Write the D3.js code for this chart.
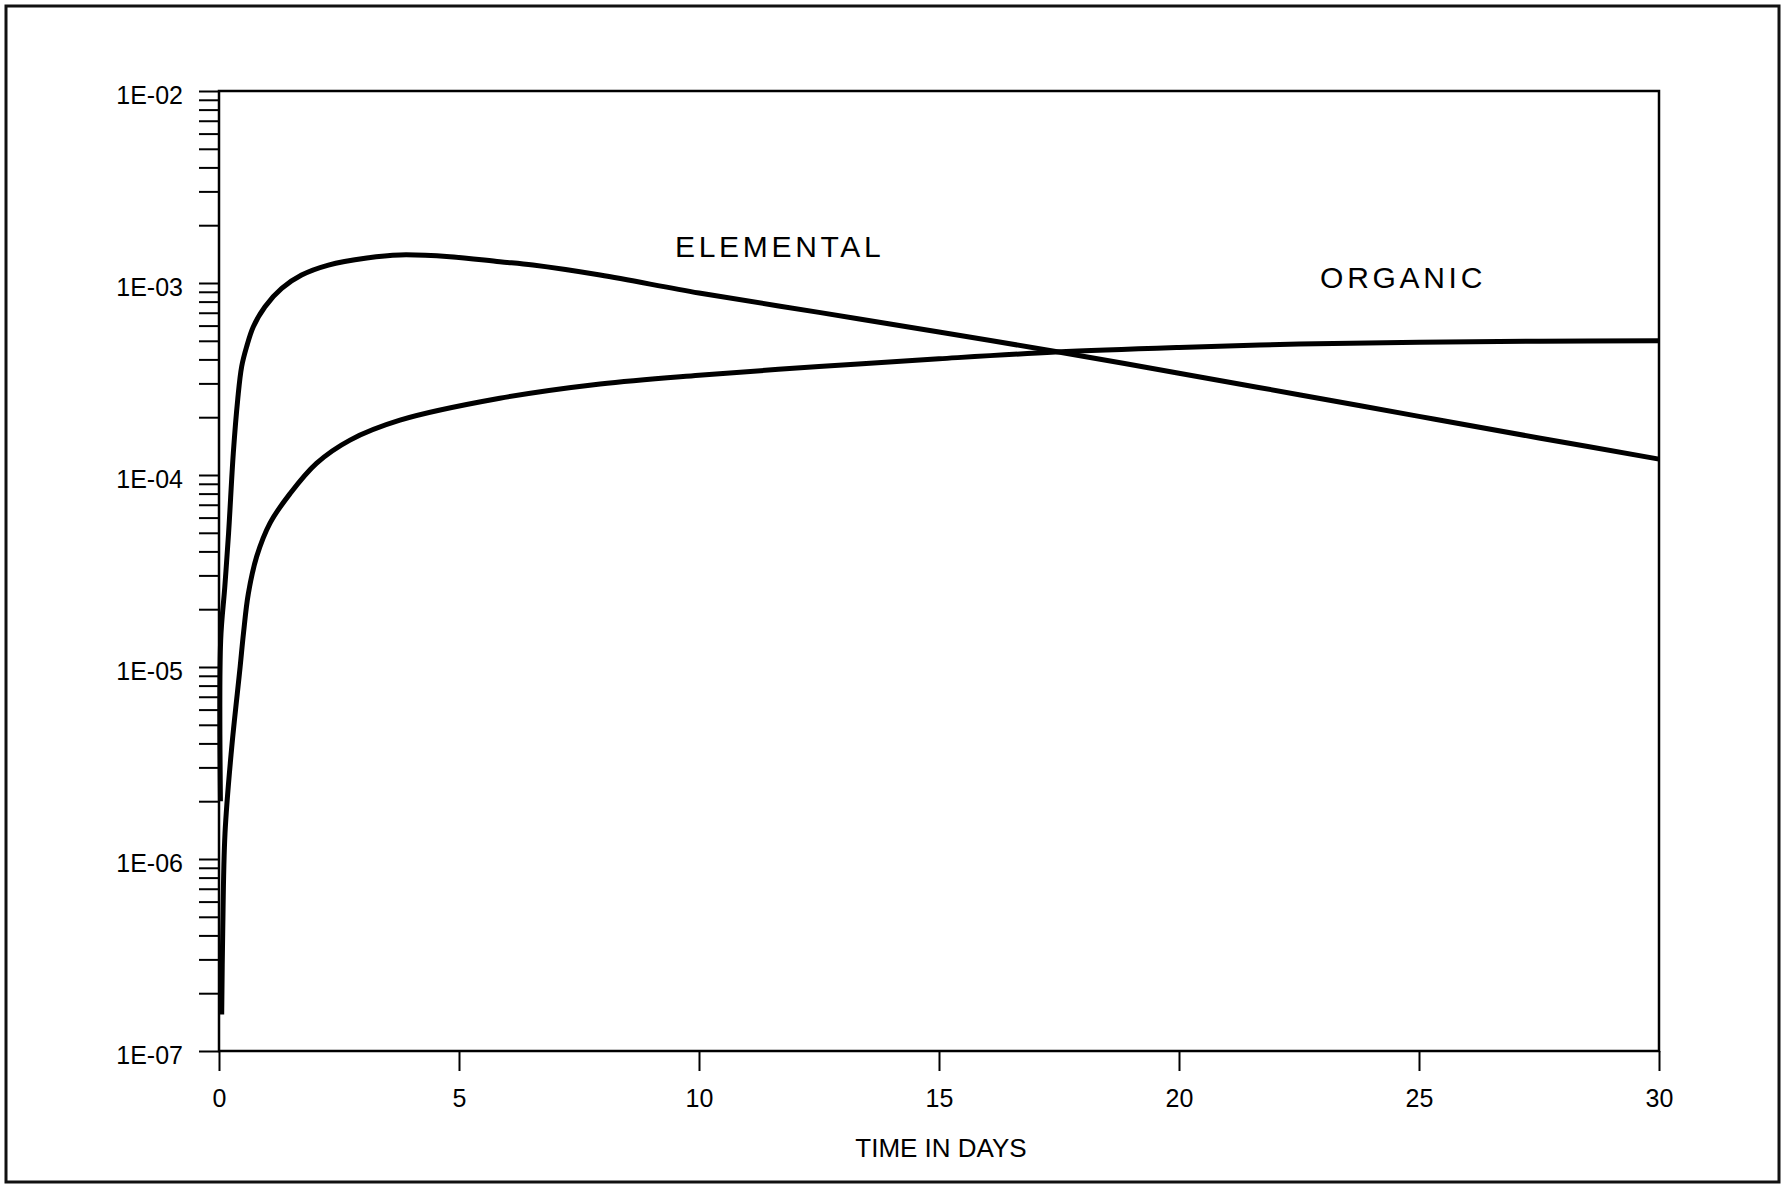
<!DOCTYPE html>
<html>
<head>
<meta charset="utf-8">
<script src="https://cdn.jsdelivr.net/npm/d3@7"></script>
<style>
  html, body { margin: 0; padding: 0; background: #fff; }
  svg { display: block; font-family: "Liberation Sans", Arial, sans-serif; }
</style>
</head>
<body>
<svg id="chart" width="1784" height="1185"></svg>
<script>
// ---- data ----
const elementalDays = [0.03, 0.035, 0.12, 0.2, 0.298, 0.389, 0.472, 0.576, 0.715, 0.958, 1.306, 1.72, 2.28, 3.08, 3.77, 4.81, 5.85, 6.54, 7.94, 10, 12.5, 15, 17.43, 20, 22.5, 25, 27.5, 30];
const elementalValues = [2.0e-6, 1.38e-5, 2.6e-5, 5.0e-5, 1.3e-4, 2.46e-4, 3.67e-4, 4.66e-4, 5.92e-4, 7.53e-4, 9.37e-4, 1.10e-3, 1.24e-3, 1.35e-3, 1.40e-3, 1.37e-3, 1.29e-3, 1.24e-3, 1.10e-3, 8.87e-4, 7.03e-4, 5.56e-4, 4.40e-4, 3.39e-4, 2.62e-4, 2.02e-4, 1.56e-4, 1.21e-4];

const organicDays = [0.056, 0.077, 0.125, 0.26, 0.44, 0.51, 0.61, 0.785, 1.06, 1.48, 2.03, 2.73, 3.77, 5.85, 7.94, 10, 12.5, 15, 17.43, 20, 22.5, 25, 27.5, 30];
const organicValues = [1.55e-7, 4.1e-7, 1.36e-6, 3.7e-6, 1.0e-5, 1.5e-5, 2.4e-5, 3.76e-5, 5.6e-5, 8.0e-5, 1.15e-4, 1.52e-4, 1.93e-4, 2.51e-4, 2.98e-4, 3.31e-4, 3.67e-4, 4.03e-4, 4.37e-4, 4.62e-4, 4.81e-4, 4.92e-4, 4.98e-4, 5.0e-4];

const xTicks = [0, 5, 10, 15, 20, 25, 30];
const yMajorTicks = [1e-7, 1e-6, 1e-5, 1e-4, 1e-3, 1e-2];
const yTickLabels = ["1E-07", "1E-06", "1E-05", "1E-04", "1E-03", "1E-02"];
const seriesLabels = ["ELEMENTAL", "ORGANIC"];
const labelDays = [9.5, 22.94];
const labelValues = [1.366e-3, 9.42e-4];
const xTitle = "TIME IN DAYS";

// ---- layout ----
const svg = d3.select("#chart");
const L = 219, R = 1659, T = 91, B = 1051;

const x = d3.scaleLinear().domain([0, 30]).range([L, R]);
const y = d3.scaleLog().domain([1e-7, 1e-2]).range([B, T]);

// outer frame
svg.append("rect")
  .attr("x", 6).attr("y", 6).attr("width", 1773).attr("height", 1176)
  .attr("fill", "none").attr("stroke", "#111").attr("stroke-width", 3);

// all log ticks (1..9 x decade)
const yAllTicks = [];
for (let e = -7; e < -2; e++) {
  for (let m = 1; m <= 9; m++) yAllTicks.push(m * Math.pow(10, e));
}
yAllTicks.push(1e-2);

const yAxis = d3.axisLeft(y)
  .tickValues(yAllTicks)
  .tickSize(20)
  .tickSizeOuter(0)
  .tickPadding(16)
  .tickFormat(d => {
    const i = yMajorTicks.findIndex(v => Math.abs(Math.log10(v) - Math.log10(d)) < 1e-6);
    return i >= 0 ? yTickLabels[i] : "";
  });

const gy = svg.append("g").attr("transform", `translate(${L},0)`).call(yAxis);
gy.select(".domain").remove();
gy.selectAll(".tick line").attr("stroke", "#000").attr("stroke-width", 2);
gy.selectAll(".tick text")
  .attr("font-size", 25).attr("fill", "#000")
  .attr("font-family", "Liberation Sans, Arial, sans-serif")
  .attr("dy", 12);

const xAxis = d3.axisBottom(x)
  .tickValues(xTicks)
  .tickSize(20)
  .tickSizeOuter(0)
  .tickPadding(18)
  .tickFormat(d3.format("d"));

const gx = svg.append("g").attr("transform", `translate(0,${B})`).call(xAxis);
gx.select(".domain").remove();
gx.selectAll(".tick line").attr("stroke", "#000").attr("stroke-width", 2);
gx.selectAll(".tick text")
  .attr("font-size", 25).attr("fill", "#000")
  .attr("font-family", "Liberation Sans, Arial, sans-serif")
  .attr("dy", "0.71em");

// plot box
svg.append("rect")
  .attr("x", L).attr("y", T).attr("width", R - L).attr("height", B - T)
  .attr("fill", "none").attr("stroke", "#000").attr("stroke-width", 2.5);

// curves
const line = d3.line()
  .x(d => x(d[0]))
  .y(d => y(d[1]))
  .curve(d3.curveCatmullRom.alpha(0.5));

const elemental = elementalDays.map((t, i) => [t, elementalValues[i]]);
const organic = organicDays.map((t, i) => [t, organicValues[i]]);

[elemental, organic].forEach(data => {
  svg.append("path")
    .datum(data)
    .attr("d", line)
    .attr("fill", "none")
    .attr("stroke", "#000")
    .attr("stroke-width", 5)
    .attr("stroke-linejoin", "round");
});

// series labels
seriesLabels.forEach((s, i) => {
  svg.append("text")
    .attr("x", x(labelDays[i])).attr("y", y(labelValues[i]))
    .attr("font-size", 30).attr("letter-spacing", 3.7).attr("fill", "#000")
    .text(s);
});

// x title
svg.append("text")
  .attr("x", (L + R) / 2 + 2).attr("y", 1157)
  .attr("text-anchor", "middle")
  .attr("font-size", 26).attr("fill", "#000")
  .text(xTitle);
</script>
</body>
</html>
